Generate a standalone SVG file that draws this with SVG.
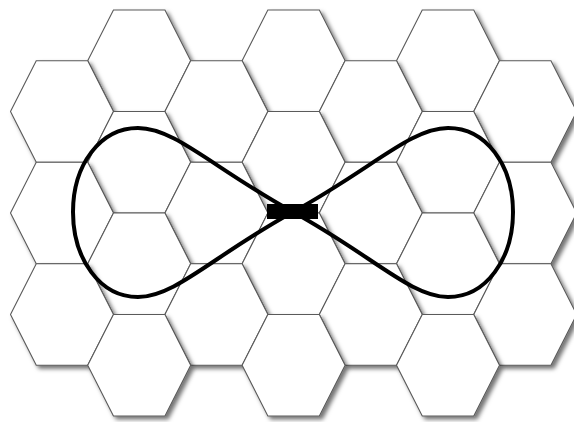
<svg xmlns="http://www.w3.org/2000/svg" xmlns:xlink="http://www.w3.org/1999/xlink" width="574" height="422" viewBox="0 0 574 422">
<style>
.hex{fill:#fff;stroke:#5a5a5a;stroke-width:1.1;filter:url(#sh)}
.curve{fill:none;stroke:#000;stroke-width:4;stroke-linejoin:round}
</style>
<defs>
<filter id="sh" x="-20%" y="-20%" width="150%" height="150%">
<feDropShadow dx="3" dy="3" stdDeviation="2" flood-color="#000" flood-opacity="0.55"/>
</filter>
<polygon id="hx" points="-51.5,0 -25.75,-50.75 25.75,-50.75 51.5,0 25.75,50.75 -25.75,50.75"/>
</defs>
<rect width="574" height="422" fill="#fff"/>
<g id="hexes">
<g id="h1_0"><use xlink:href="#hx" class="hex" transform="translate(139.2,60.75)"/></g>
<g id="h3_0"><use xlink:href="#hx" class="hex" transform="translate(293.6,60.75)"/></g>
<g id="h5_0"><use xlink:href="#hx" class="hex" transform="translate(448,60.75)"/></g>
<g id="h0_0"><use xlink:href="#hx" class="hex" transform="translate(62,111.5)"/></g>
<g id="h2_0"><use xlink:href="#hx" class="hex" transform="translate(216.4,111.5)"/></g>
<g id="h4_0"><use xlink:href="#hx" class="hex" transform="translate(370.8,111.5)"/></g>
<g id="h6_0"><use xlink:href="#hx" class="hex" transform="translate(525.2,111.5)"/></g>
<g id="h1_1"><use xlink:href="#hx" class="hex" transform="translate(139.2,162.25)"/></g>
<g id="h3_1"><use xlink:href="#hx" class="hex" transform="translate(293.6,162.25)"/></g>
<g id="h5_1"><use xlink:href="#hx" class="hex" transform="translate(448,162.25)"/></g>
<g id="h0_1"><use xlink:href="#hx" class="hex" transform="translate(62,213)"/></g>
<g id="h2_1"><use xlink:href="#hx" class="hex" transform="translate(216.4,213)"/></g>
<g id="h4_1"><use xlink:href="#hx" class="hex" transform="translate(370.8,213)"/></g>
<g id="h6_1"><use xlink:href="#hx" class="hex" transform="translate(525.2,213)"/></g>
<g id="h1_2"><use xlink:href="#hx" class="hex" transform="translate(139.2,263.75)"/></g>
<g id="h3_2"><use xlink:href="#hx" class="hex" transform="translate(293.6,263.75)"/></g>
<g id="h5_2"><use xlink:href="#hx" class="hex" transform="translate(448,263.75)"/></g>
<g id="h0_2"><use xlink:href="#hx" class="hex" transform="translate(62,314.5)"/></g>
<g id="h2_2"><use xlink:href="#hx" class="hex" transform="translate(216.4,314.5)"/></g>
<g id="h4_2"><use xlink:href="#hx" class="hex" transform="translate(370.8,314.5)"/></g>
<g id="h6_2"><use xlink:href="#hx" class="hex" transform="translate(525.2,314.5)"/></g>
<g id="h1_3"><use xlink:href="#hx" class="hex" transform="translate(139.2,365.25)"/></g>
<g id="h3_3"><use xlink:href="#hx" class="hex" transform="translate(293.6,365.25)"/></g>
<g id="h5_3"><use xlink:href="#hx" class="hex" transform="translate(448,365.25)"/></g>
</g>
<g id="connectors">
<path class="curve" d="M293,212 C213,168 175,128 138,128 C100,128 73,165 73,212 C73,259 100,297 138,297 C175,297 213,256 293,212 C373,168 411,128 448,128 C486,128 513,165 513,212 C513,259 486,297 448,297 C411,297 373,256 293,212 Z"/>
</g>
<g id="center-node">
<rect x="267" y="204" width="51" height="15" fill="#000"/>
</g>
</svg>
